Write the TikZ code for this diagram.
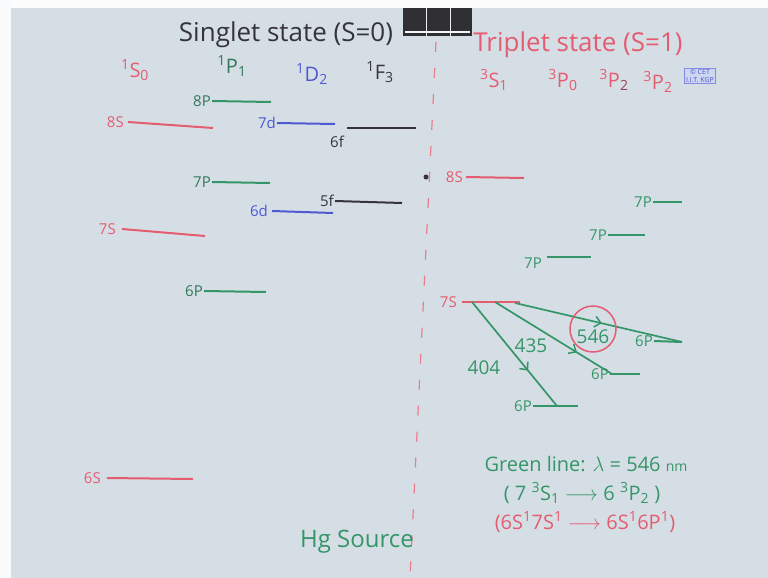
\documentclass[tikz,border=0pt]{standalone}
\usepackage{fontspec}
\setmainfont{Open Sans}
\usetikzlibrary{arrows.meta,decorations.markings}
\definecolor{bgc}{RGB}{214,222,229}
\definecolor{redc}{RGB}{228,92,112}
\definecolor{greenc}{RGB}{52,150,104}
\definecolor{dgreenc}{RGB}{50,120,90}
\definecolor{bluec}{RGB}{78,88,210}
\definecolor{blackc}{RGB}{52,52,58}
\definecolor{logobg}{RGB}{205,215,240}
\begin{document}
\begin{tikzpicture}[x=1pt,y=-1pt,
  lvl/.style={line width=2pt},
  lab/.style={inner sep=1pt,font=\fontsize{15}{15}\selectfont},
  term/.style={inner sep=1pt,font=\fontsize{20}{20}\selectfont},
  big/.style={inner sep=1pt,font=\fontsize{26}{26}\selectfont},
  txt/.style={inner sep=1pt,font=\fontsize{19}{19}\selectfont},
  note/.style={inner sep=1pt,font=\fontsize{20}{20}\selectfont},
  trans/.style={line width=1.7pt,draw=greenc,postaction={decorate},
    decoration={markings,mark=at position #1 with {\arrow{Straight Barb[length=6pt,width=11pt,line width=1.5pt]}}}},
]
\fill[bgc] (0,0) rectangle (768,578);
\useasboundingbox (0,0) rectangle (768,578);
\fill[white!92!bgc] (0,0) rectangle (768,8);
\fill[white!85!bgc] (0,0) rectangle (11,578);
\fill[blackc!90!black] (403,8) rectangle (472,36);
\fill[white!70!bgc] (405,31) rectangle (470,33);
\draw[white!60!bgc,line width=1pt] (426,8) -- (426,36) (450,8) -- (450,36);

% dividing dashed line
\coordinate (divtop) at (436,42);
\coordinate (divbot) at (410,578);
\draw[redc!80,line width=1.2pt,dash pattern=on 10pt off 16pt] (divtop) -- (divbot);

% titles
\node[big,blackc] (singlet) at (286,35) {Singlet state (S=0)};
\node[big,redc] (triplet) at (578,45) {Triplet state (S=1)};

% singlet term symbols
\node[term,redc] (tS0) at (135,70) {\textsuperscript{1}S\textsubscript{0}};
\node[term,dgreenc] (tP1) at (232,66) {\textsuperscript{1}P\textsubscript{1}};
\node[term,bluec] (tD2) at (312,74) {\textsuperscript{1}D\textsubscript{2}};
\node[term,blackc] (tF3) at (380,72) {\textsuperscript{1}F\textsubscript{3}};

% triplet term symbols
\node[term,redc] (tS1) at (494,80) {\textsuperscript{3}S\textsubscript{1}};
\node[term,redc] (tP0) at (563,80) {\textsuperscript{3}P\textsubscript{0}};
\node[term,redc] (tPx) at (614,80) {\textsuperscript{3}P\textsubscript{\textcolor{redc!70!black}{2}}};
\node[term,redc] (tP2) at (658,82) {\textsuperscript{3}P\textsubscript{2}};
\node[draw=bluec!70,fill=logobg,line width=0.8pt,inner sep=1.5pt,align=center,
  font=\fontsize{7}{7.5}\selectfont,text=bluec] (logo) at (700,76) {\textcopyright\ CET\\I.I.T. KGP};

% ---------- singlet levels ----------
% 1S0 (red)
\coordinate (s8a) at (128,122); \coordinate (s8b) at (213,128);
\draw[lvl,redc] (s8a) -- (s8b);
\node[lab,redc,anchor=east] (s8l) at ([xshift=-3pt]s8a) {8S};
\coordinate (s7a) at (122,229); \coordinate (s7b) at (205,236);
\draw[lvl,redc] (s7a) -- (s7b);
\node[lab,redc,anchor=east] (s7l) at ([xshift=-5pt]s7a) {7S};
\coordinate (s6a) at (107,478); \coordinate (s6b) at (193,479);
\draw[lvl,redc] (s6a) -- (s6b);
\node[lab,redc,anchor=east] (s6l) at ([xshift=-5pt]s6a) {6S};
% 1P1 (green)
\coordinate (p8a) at (212,101); \coordinate (p8b) at (271,102);
\draw[lvl,greenc] (p8a) -- (p8b);
\node[lab,dgreenc,anchor=east] (p8l) at (p8a) {8P};
\coordinate (p7a) at (212,182); \coordinate (p7b) at (270,183);
\draw[lvl,greenc] (p7a) -- (p7b);
\node[lab,dgreenc,anchor=east] (p7l) at (p7a) {7P};
\coordinate (p6a) at (204,291); \coordinate (p6b) at (266,292);
\draw[lvl,greenc] (p6a) -- (p6b);
\node[lab,dgreenc,anchor=east] (p6l) at (p6a) {6P};
% 1D2 (blue)
\coordinate (d7a) at (277,123); \coordinate (d7b) at (335,124);
\draw[lvl,bluec] (d7a) -- (d7b);
\node[lab,bluec,anchor=east] (d7l) at (d7a) {7d};
\coordinate (d6a) at (272,211); \coordinate (d6b) at (333,213);
\draw[lvl,bluec] (d6a) -- (d6b);
\node[lab,bluec,anchor=east] (d6l) at ([xshift=-3pt]d6a) {6d};
% 1F3 (black)
\coordinate (f6a) at (347,128); \coordinate (f6b) at (416,128);
\draw[lvl,blackc] (f6a) -- (f6b);
\node[lab,blackc] (f6l) at (337,142) {6f};
\coordinate (f5a) at (335,201); \coordinate (f5b) at (402,203);
\draw[lvl,blackc] (f5a) -- (f5b);
\node[lab,blackc,anchor=east] (f5l) at (f5a) {5f};

% ---------- triplet levels ----------
\fill[blackc] (426,177) circle (2.5pt);
\coordinate (ts8a) at (466,177); \coordinate (ts8b) at (524,178);
\draw[lvl,redc] (ts8a) -- (ts8b);
\node[lab,redc,anchor=east] (ts8l) at ([xshift=-2pt]ts8a) {8S};
\coordinate (ts7a) at (462,302); \coordinate (ts7b) at (520,302);
\draw[lvl,redc] (ts7a) -- (ts7b);
\node[lab,redc,anchor=east] (ts7l) at ([xshift=-4pt]ts7a) {7S};

\coordinate (tp7aa) at (653,202); \coordinate (tp7ab) at (682,202);
\draw[lvl,greenc] (tp7aa) -- (tp7ab);
\node[lab,greenc,anchor=east] (tp7al) at (tp7aa) {7P};
\coordinate (tp7ba) at (608,235); \coordinate (tp7bb) at (645,235);
\draw[lvl,greenc] (tp7ba) -- (tp7bb);
\node[lab,greenc,anchor=east] (tp7bl) at (tp7ba) {7P};
\coordinate (tp7ca) at (547,257); \coordinate (tp7cb) at (591,257);
\draw[lvl,greenc] (tp7ca) -- (tp7cb);
\node[lab,greenc,anchor=east] (tp7cl) at ([xshift=-4pt,yshift=-6pt]tp7ca) {7P};

\coordinate (tp6aa) at (654,341); \coordinate (tp6ab) at (682,342);
\draw[lvl,greenc] (tp6aa) -- (tp6ab);
\node[lab,greenc,anchor=east] (tp6al) at (tp6aa) {6P};
\coordinate (tp6ba) at (610,374); \coordinate (tp6bb) at (640,374);
\draw[lvl,greenc] (tp6ba) -- (tp6bb);
\node[lab,greenc,anchor=east] (tp6bl) at (tp6ba) {6P};
\coordinate (tp6ca) at (533,406); \coordinate (tp6cb) at (578,406);
\draw[lvl,greenc] (tp6ca) -- (tp6cb);
\node[lab,greenc,anchor=east] (tp6cl) at (tp6ca) {6P};

% transitions from 7 3S1
\coordinate (o1) at (472,302); \coordinate (o2) at (495,302); \coordinate (o3) at (515,303);
\draw[trans=0.66] (o1) -- (557,406) coordinate (e1);
\draw[trans=0.70] (o2) -- (612,374) coordinate (e2);
\draw[trans=0.52] (o3) -- (tp6ab);

\node[txt,greenc] (w404) at (484,368) {404};
\node[txt,greenc] (w435) at (531,346) {435};
\node[txt,greenc] (w546) at (593,337) {546};
\node[draw=redc,line width=1.5pt,circle,minimum size=46pt,inner sep=0pt] (ring) at (593,329) {};

% notes
\node[note,greenc] (green) at (586,464) {Green line: $\lambda$ = 546 {\fontsize{14}{14}\selectfont nm}};
\node[note,greenc] (conf1) at (582,493) {( 7 \textsuperscript{3}S\textsubscript{1} $\longrightarrow$ 6 \textsuperscript{3}P\textsubscript{2} )};
\node[note,redc] (conf2) at (585,522) {(6S\textsuperscript{1}7S\textsuperscript{1} $\longrightarrow$ 6S\textsuperscript{1}6P\textsuperscript{1})};
\node[big,greenc,font=\fontsize{24}{24}\selectfont] (hg) at (357,542) {Hg Source};
\end{tikzpicture}
\end{document}
